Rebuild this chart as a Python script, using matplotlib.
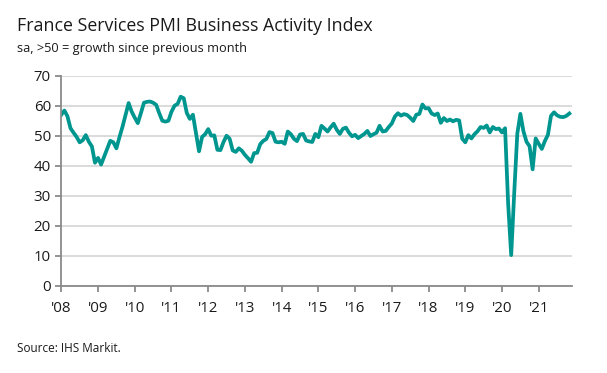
import numpy as np
import matplotlib.pyplot as plt

# France services PMI business activity, monthly, Jan 2008 - Nov 2021
pmi_2008 = [57.0, 58.4, 56.5, 52.5, 51.0, 49.6, 47.8, 48.5, 50.2, 48.0, 46.4, 41.0]
pmi_2009 = [42.6, 40.4, 43.0, 45.5, 48.3, 47.8, 45.8, 49.5, 53.0, 57.0, 60.9, 58.0]
pmi_2010 = [56.0, 54.2, 57.5, 61.0, 61.3, 61.4, 61.0, 60.3, 57.5, 55.0, 54.7, 55.0]
pmi_2011 = [58.0, 60.0, 60.6, 63.0, 62.5, 57.6, 55.6, 57.0, 51.0, 44.8, 49.6, 50.5]
pmi_2012 = [52.2, 50.0, 50.1, 45.3, 45.2, 47.9, 50.0, 49.0, 45.1, 44.6, 45.8, 45.0]
pmi_2013 = [43.6, 42.5, 41.3, 44.2, 44.3, 47.2, 48.3, 48.9, 51.2, 50.9, 48.0, 47.8]
pmi_2014 = [48.0, 47.3, 51.4, 50.5, 49.0, 48.2, 50.4, 50.6, 48.4, 48.1, 47.9, 50.6]
pmi_2015 = [49.5, 53.3, 52.4, 51.4, 52.8, 54.0, 52.0, 50.6, 52.3, 52.7, 51.0, 49.8]
pmi_2016 = [50.3, 49.2, 49.9, 50.6, 51.6, 49.9, 50.5, 51.0, 53.3, 51.4, 51.6, 52.9]
pmi_2017 = [54.1, 56.4, 57.5, 56.7, 57.2, 56.9, 56.0, 54.9, 57.0, 57.3, 60.4, 59.1]
pmi_2018 = [59.2, 57.4, 56.9, 57.4, 54.3, 55.9, 54.9, 55.4, 54.8, 55.3, 55.1, 49.0]
pmi_2019 = [47.8, 50.2, 49.1, 50.5, 51.5, 52.9, 52.6, 53.4, 51.1, 52.9, 52.2, 52.4]
pmi_2020 = [51.1, 52.5, 27.4, 10.2, 31.1, 50.7, 57.3, 51.5, 48.0, 46.5, 38.8, 49.1]
pmi_2021 = [47.3, 45.6, 48.2, 50.3, 56.6, 57.8, 56.8, 56.3, 56.2, 56.6, 57.4]

values = (pmi_2008 + pmi_2009 + pmi_2010 + pmi_2011 + pmi_2012 + pmi_2013 + pmi_2014
          + pmi_2015 + pmi_2016 + pmi_2017 + pmi_2018 + pmi_2019 + pmi_2020 + pmi_2021)
years = ["'08", "'09", "'10", "'11", "'12", "'13", "'14", "'15", "'16", "'17",
         "'18", "'19", "'20", "'21"]
months = np.arange(len(values))

plt.rcParams['font.family'] = ['Open Sans', 'DejaVu Sans']

fig = plt.figure(figsize=(6.07, 3.73), dpi=100)
ax = fig.add_axes([0.101, 0.234, 0.842, 0.563])

ax.plot(months, values, color='#009690', lw=2.7, solid_joinstyle='round')

ax.set_xlim(0, 167)
ax.set_ylim(0, 70)
ax.set_yticks(range(0, 71, 10))
ax.set_xticks(np.arange(len(years)) * 12)
ax.set_xticklabels(years)
ax.grid(axis='y', color='#d4d4d4', lw=1.2)
ax.set_axisbelow(True)

for s in ['top', 'right']:
    ax.spines[s].set_visible(False)
for s in ['left', 'bottom']:
    ax.spines[s].set_color('#8a8a8a')
    ax.spines[s].set_linewidth(1.3)
ax.tick_params(axis='both', colors='#8a8a8a', length=4, width=1.3, labelsize=10.8,
               labelcolor='#1a1a1a')
ax.tick_params(axis='x', pad=7)

fig.text(0.028, 0.93, "France Services PMI Business Activity Index", fontsize=12.8,
         color='#1a1a1a', va='center')
fig.text(0.028, 0.87, "sa, >50 = growth since previous month", fontsize=9.2,
         color='#1a1a1a', va='center')
fig.text(0.028, 0.066, "Source: IHS Markit.", fontsize=8.5, color='#1a1a1a', va='center')

fig.savefig("out.png", dpi=100)
